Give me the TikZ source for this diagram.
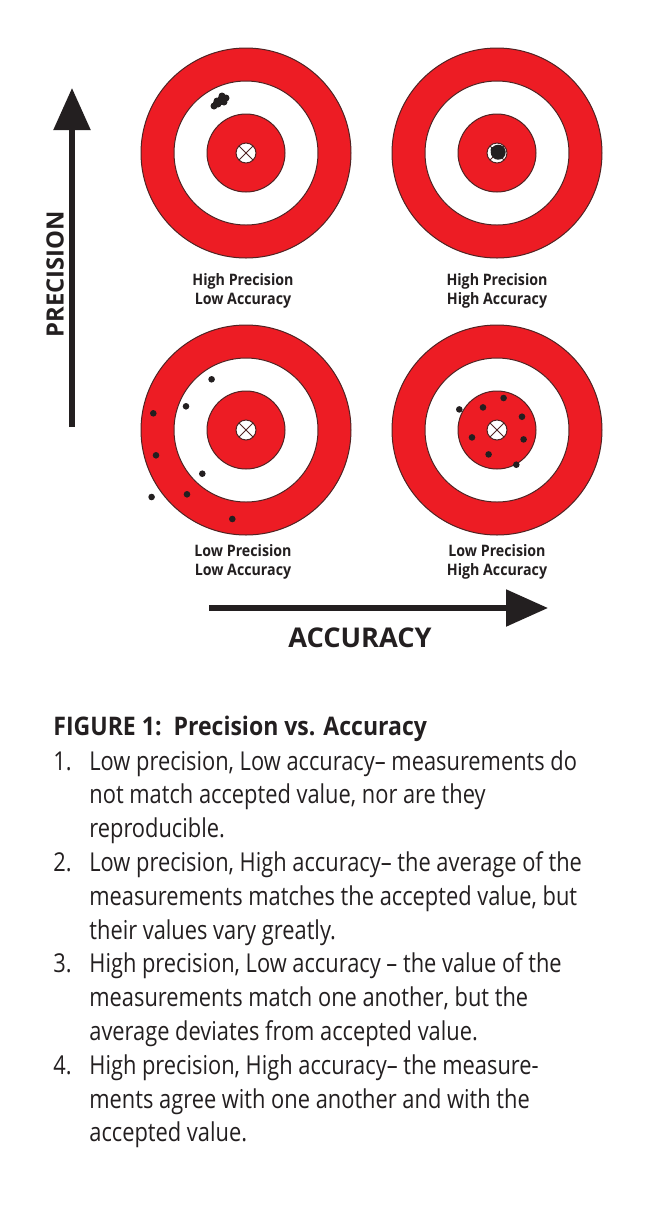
\documentclass[tikz,border=0pt]{standalone}
\usepackage{fontspec}
\setmainfont{Open Sans}
\newfontfamily\narrowfont[FakeStretch=0.84]{Open Sans}
\newfontfamily\capfont[FakeStretch=0.9]{Open Sans}
\newfontfamily\labelfont[FakeStretch=0.9]{Open Sans}
\usetikzlibrary{arrows.meta}
\definecolor{ringred}{RGB}{237,28,36}
\definecolor{ringedge}{RGB}{80,35,35}
\definecolor{ink}{RGB}{35,31,32}
\tikzset{
    ring/.style={draw=ringedge,line width=0.5pt},
    hole/.style={fill=ink},
    axisarrow/.style={-{Triangle[width=18pt,length=21pt]},line width=2.7pt,ink},
    axislabel/.style={font=\bfseries\fontsize{13.6}{16}\selectfont,text=ink},
    caselabel/.style={align=center,font=\labelfont\bfseries\fontsize{7.9}{9.5}\selectfont,text=ink},
    bodyline/.style={anchor=base west,inner sep=0pt,font=\narrowfont\fontsize{13}{17}\selectfont,text=ink},
    bullseye/.pic={
        \filldraw[ring,fill=ringred] (0,0) circle (105);
        \filldraw[ring,fill=white] (0,0) circle (72);
        \filldraw[ring,fill=ringred] (0,0) circle (39);
        \filldraw[ring,fill=white] (0,0) circle (10);
        \draw[ring] (45:10) -- (225:10) (135:10) -- (315:10);
    }
}

\begin{document}
\begin{tikzpicture}[x=0.5pt,y=0.5pt]
    \useasboundingbox (0,0) rectangle (656,-1206);
    % Targets
    \pic (hplo) at (246,-153) {bullseye};
    \pic (hphi) at (497,-153) {bullseye};
    \pic (lplo) at (246,-430) {bullseye};
    \pic (lphi) at (497,-430) {bullseye};
    % Shots
    \foreach \dx/\dy in {-32/47,-28/49,-29/52,-25/54,-22/51,-24/57,-20/55,-26/51,-30/49,-23/54}
        \fill[hole,shift={(246,-153)}] (\dx,\dy) circle (3.5);
    \fill[hole,shift={(497,-153)}] (1.2,0.8) circle (7.5) (3,4) circle (3.5) (-3,3) circle (3.5) (4,-2) circle (3.5);
    \foreach \dx/\dy in {-34.4/50.7,-60/23.7,-92.7/16.7,-90/-25.3,-43.7/-43.7,-94.4/-67,-59/-64.3,-13.7/-89}
        \fill[hole,shift={(246,-430)}] (\dx,\dy) circle (3.3);
    \foreach \dx/\dy in {-37.7/20.6,-14/22.6,6.6/32,25/13.3,26.6/-9.4,-25/-7.4,-8.4/-24.4,19.3/-34.7}
        \fill[hole,shift={(497,-430)}] (\dx,\dy) circle (3.3);
    % Case labels
    \node[caselabel] (hplolbl) at (243,-291) {High Precision\\Low Accuracy};
    \node[caselabel] (hphilbl) at (497,-291) {High Precision\\High Accuracy};
    \node[caselabel] (lplolbl) at (243,-562) {Low Precision\\Low Accuracy};
    \node[caselabel] (lphilbl) at (497,-562) {Low Precision\\High Accuracy};
    % Axes
    \coordinate (precbase) at (72,-427);
    \coordinate (prectip) at (72,-88);
    \draw[axisarrow] (precbase) -- (prectip);
    \node[axislabel,rotate=90,font=\bfseries\fontsize{11.9}{14}\selectfont] (preclbl) at (55,-274) {PRECISION};
    \coordinate (accbase) at (209,-608);
    \coordinate (acctip) at (548,-608);
    \draw[axisarrow] (accbase) -- (acctip);
    \node[axislabel] (acclbl) at (360,-638) {ACCURACY};
    % Caption and list
    \node[bodyline,font=\capfont\bfseries\fontsize{12.8}{17}\selectfont] (figcap) at (53,-735) {FIGURE 1:\ \ Precision vs. Accuracy};
    \foreach \num/\row in {1/1,2/4,3/7,4/10}
        \node[bodyline] (num\num) at (53,{-770-33.8*(\row-1)}) {\num.};
    \foreach \txt [count=\i] in {{Low precision, Low accuracy– measurements do},
        {not match accepted value, nor are they},
        {reproducible.},
        {Low precision, High accuracy– the average of the},
        {measurements matches the accepted value, but},
        {their values vary greatly.},
        {High precision, Low accuracy – the value of the},
        {measurements match one another, but the},
        {average deviates from accepted value.},
        {High precision, High accuracy– the measure-},
        {ments agree with one another and with the},
        {accepted value.}}
        \node[bodyline] (line\i) at (89,{-770-33.8*(\i-1)}) {\txt};
\end{tikzpicture}
\end{document}
